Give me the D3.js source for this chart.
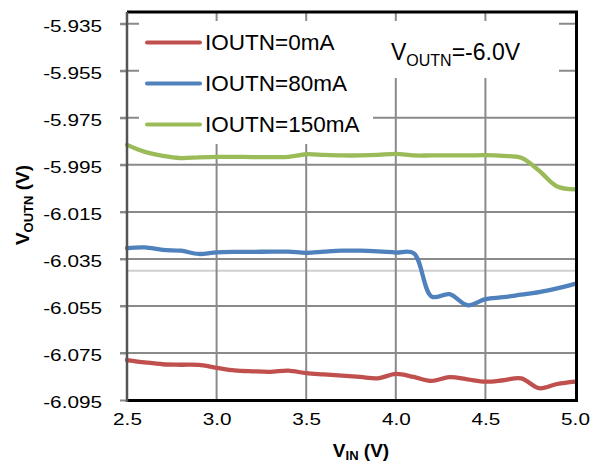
<!DOCTYPE html>
<html><head><meta charset="utf-8">
<script src="https://cdn.jsdelivr.net/npm/d3@7/dist/d3.min.js"></script>
<style>html,body{margin:0;padding:0;background:#fff;}svg{display:block;}</style>
</head><body>
<svg id="chart" width="593" height="463"></svg>
<script>
const vin = [2.5,2.6,2.7,2.8,2.9,3.0,3.1,3.2,3.3,3.4,3.5,3.6,3.7,3.8,3.9,4.0,4.1,4.2,4.3,4.4,4.5,4.6,4.7,4.8,4.9,5.0];
const iout0 = [-6.0780,-6.0790,-6.0798,-6.0800,-6.0801,-6.0813,-6.0824,-6.0828,-6.0830,-6.0825,-6.0836,-6.0841,-6.0846,-6.0852,-6.0858,-6.0839,-6.0852,-6.0869,-6.0853,-6.0862,-6.0872,-6.0866,-6.0858,-6.0900,-6.0882,-6.0872];
const iout80 = [-6.0304,-6.0301,-6.0312,-6.0315,-6.0329,-6.0322,-6.0320,-6.0320,-6.0319,-6.0319,-6.0324,-6.0319,-6.0315,-6.0315,-6.0318,-6.0323,-6.0326,-6.0510,-6.0500,-6.0547,-6.0521,-6.0513,-6.0502,-6.0491,-6.0475,-6.0456];
const iout150 = [-5.9865,-5.9895,-5.9912,-5.9921,-5.9918,-5.9916,-5.9916,-5.9917,-5.9917,-5.9916,-5.9905,-5.9908,-5.9910,-5.9910,-5.9908,-5.9903,-5.9910,-5.9910,-5.9910,-5.9910,-5.9909,-5.9912,-5.9920,-5.9975,-6.0042,-6.0054];
const seriesNames = ["IOUTN=0mA","IOUTN=80mA","IOUTN=150mA"];
const seriesColors = ["#C0504D","#4F81BD","#9BBB59"];
const yTicks = [-6.095,-6.075,-6.055,-6.035,-6.015,-5.995,-5.975,-5.955,-5.935];
const yTickLabels = ["-6.095","-6.075","-6.055","-6.035","-6.015","-5.995","-5.975","-5.955","-5.935"];
const xTicks = [2.5,3.0,3.5,4.0,4.5,5.0];
const xTickLabels = ["2.5","3.0","3.5","4.0","4.5","5.0"];
const refLine = -6.040;

const svg = d3.select("#chart");
const L = 127, R = 575, T = 12, B = 400;
const x = d3.scaleLinear().domain([2.5, 5.0]).range([L, R]);
const y = d3.scaleLinear().domain([-6.095, -5.93]).range([B, T]);
const grid = "#8a8a8a";

// horizontal gridlines
svg.append("g").selectAll("line").data(yTicks.slice(1)).join("line")
  .attr("x1", 120).attr("x2", 576).attr("y1", d => y(d)).attr("y2", d => y(d))
  .attr("stroke", grid).attr("stroke-width", 2);
// light reference line
svg.append("line").attr("x1", L).attr("x2", 577).attr("y1", y(refLine)).attr("y2", y(refLine))
  .attr("stroke", "#cfcfcf").attr("stroke-width", 2);
// vertical gridlines
svg.append("g").selectAll("line").data(xTicks.slice(1, -1)).join("line")
  .attr("x1", d => x(d)).attr("x2", d => x(d)).attr("y1", T).attr("y2", B)
  .attr("stroke", grid).attr("stroke-width", 2);

// axes via d3
const yAxis = svg.append("g").attr("transform", `translate(${L},0)`)
  .call(d3.axisLeft(y).tickValues(yTicks).tickFormat((d,i) => yTickLabels[i]).tickSize(7).tickPadding(0));
yAxis.select(".domain").remove();
yAxis.selectAll(".tick line").attr("stroke", grid).attr("stroke-width", 2);
yAxis.selectAll(".tick text").attr("x", 0).attr("dy", null)
  .attr("transform", "translate(-25,7.5) scale(1.22,1)")
  .attr("text-anchor", "end").attr("fill", "#000")
  .style("font-family", "'Liberation Sans', Arial, sans-serif").style("font-size", "17px");

const xAxis = svg.append("g").attr("transform", `translate(0,${B})`)
  .call(d3.axisBottom(x).tickValues(xTicks).tickFormat((d,i) => xTickLabels[i]).tickSize(0).tickPadding(0));
xAxis.select(".domain").remove();
xAxis.selectAll(".tick text").attr("y", 0).attr("dy", null)
  .attr("transform", "translate(0,25) scale(1.22,1)")
  .attr("text-anchor", "middle").attr("fill", "#000")
  .style("font-family", "'Liberation Sans', Arial, sans-serif").style("font-size", "17px");

// legend & text box backgrounds
svg.append("rect").attr("x", 139).attr("y", 21).attr("width", 234).attr("height", 123).attr("fill", "#fff");
svg.append("rect").attr("x", 373).attr("y", 21).attr("width", 186).attr("height", 57).attr("fill", "#fff");

// data lines
const seriesData = [iout0, iout80, iout150];
const line = d3.line().x((d,i) => x(vin[i])).y(d => y(d)).curve(d3.curveCatmullRom.alpha(0.5));
svg.append("g").selectAll("path").data(seriesData).join("path")
  .attr("d", d => line(d)).attr("fill", "none")
  .attr("stroke", (d,i) => seriesColors[i]).attr("stroke-width", 4.3)
  .attr("stroke-linejoin", "round").attr("stroke-linecap", "round");

// frame
svg.append("line").attr("x1", L).attr("x2", 578).attr("y1", T).attr("y2", T).attr("stroke", "#000").attr("stroke-width", 3);
svg.append("line").attr("x1", 576.5).attr("x2", 576.5).attr("y1", T).attr("y2", B).attr("stroke", "#000").attr("stroke-width", 3);
svg.append("line").attr("x1", L).attr("x2", 578).attr("y1", B + 0.5).attr("y2", B + 0.5).attr("stroke", "#000").attr("stroke-width", 3);
svg.append("line").attr("x1", L).attr("x2", L).attr("y1", T).attr("y2", B + 2).attr("stroke", "#555").attr("stroke-width", 2.5);

// legend
const leg = svg.append("g").selectAll("g").data(seriesNames).join("g")
  .attr("transform", (d,i) => `translate(147,${42.5 + i * 41})`);
leg.append("line").attr("x1", 0).attr("x2", 53).attr("stroke", (d,i) => seriesColors[i])
  .attr("stroke-width", 4).attr("stroke-linecap", "round");
leg.append("text").attr("x", 58).attr("y", 7.5).text(d => d)
  .style("font-family", "'Liberation Sans', Arial, sans-serif").style("font-size", "22.5px").attr("fill", "#000");

// annotation
const ann = svg.append("text").attr("x", 391).attr("y", 60)
  .style("font-family", "'Liberation Sans', Arial, sans-serif").style("font-size", "23px").attr("fill", "#000");
ann.append("tspan").text("V");
ann.append("tspan").attr("dy", 6).style("font-size", "16px").text("OUTN");
ann.append("tspan").attr("dy", -6).text("=-6.0V");

// axis titles
const xt = svg.append("text").attr("x", 361).attr("y", 457).attr("text-anchor", "middle")
  .style("font-family", "'Liberation Sans', Arial, sans-serif").style("font-weight", "bold").style("font-size", "19px");
xt.append("tspan").text("V");
xt.append("tspan").attr("dy", 3).style("font-size", "13px").text("IN");
xt.append("tspan").attr("dy", -3).text(" (V)");

const yt = svg.append("text").attr("transform", "translate(29,205) rotate(-90)").attr("text-anchor", "middle")
  .style("font-family", "'Liberation Sans', Arial, sans-serif").style("font-weight", "bold").style("font-size", "19px");
yt.append("tspan").text("V");
yt.append("tspan").attr("dy", 4).style("font-size", "13px").text("OUTN");
yt.append("tspan").attr("dy", -4).text(" (V)");
</script>
</body></html>
